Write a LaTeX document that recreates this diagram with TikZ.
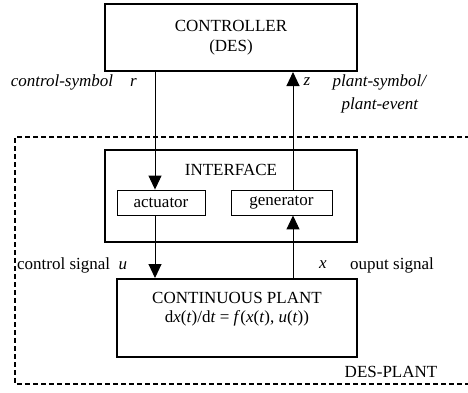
\documentclass[tikz,border=0pt]{standalone}
\usepackage{fontspec}
\setmainfont{Liberation Serif}
\usetikzlibrary{arrows.meta}

\begin{document}
\begin{tikzpicture}[x = 1pt, y = -1pt,
    every node/.style = {font = \fontsize{17}{20}\selectfont, inner sep = 0pt},
    bigbox/.style = {draw, line width = 2pt},
    smallbox/.style = {draw, line width = 0.9pt},
    sig/.style = {line width = 1pt, -{Triangle[length = 14pt, width = 13pt]}}]

    \useasboundingbox (0, 0) rectangle (468, 392);

    % DES-PLANT frame, open to the right
    \draw[dashed, line width = 1.5pt, dash pattern = on 5pt off 3pt]
      (470, 137) -- (15, 137) -- (15, 384) -- (470, 384);

    \node[bigbox, minimum width = 252, minimum height = 67, align = center] (ctrl) at (231, 37.5)
      {CONTROLLER\\(DES)};
    \node[bigbox, minimum width = 252, minimum height = 92] (iface) at (231, 196) {};
    \node (ifacetxt) at (231, 170) {INTERFACE};
    \node[smallbox, minimum width = 88, minimum height = 25] (act) at (161, 202.5) {actuator};
    \node[smallbox, minimum width = 101, minimum height = 25] (gen) at (281.5, 202.5) {generator};
    \node[bigbox, minimum width = 240, minimum height = 78] (plant) at (237, 318) {};
    \node (planttxt) at (237, 298) {CONTINUOUS PLANT};
    \node (planteq) at (237, 318)
      {d\textit{x}(\textit{t})/d\textit{t} = \textit{f}(\textit{x}(\textit{t}), \textit{u}(\textit{t}))};

    \coordinate (colr) at (155, 0);
    \coordinate (colz) at (293, 0);

    \draw[sig] (ctrl.south -| colr) -- (act.north -| colr);
    \draw[sig] (gen.north -| colz) -- (ctrl.south -| colz);
    \draw[sig] (act.south -| colr) -- (plant.north -| colr);
    \draw[sig] (plant.north -| colz) -- (gen.south -| colz);

    \node[anchor = east] (rlbl) at (137, 82) {\textit{control-symbol}\quad\textit{r}};
    \node (zlbl) at (307, 82) {\textit{z}};
    \node[align = center, font = \fontsize{17}{23}\selectfont] (zname) at (380, 93.5)
      {\textit{plant-symbol/}\\\textit{plant-event}};
    \node[anchor = west] (ulbl) at (17, 265) {control signal\enspace\textit{u}};
    \node (xlbl) at (323, 265) {\textit{x}};
    \node (xname) at (392, 265) {ouput signal};
    \node (despl) at (391, 372) {DES-PLANT};

  \end{tikzpicture}
\end{document}
